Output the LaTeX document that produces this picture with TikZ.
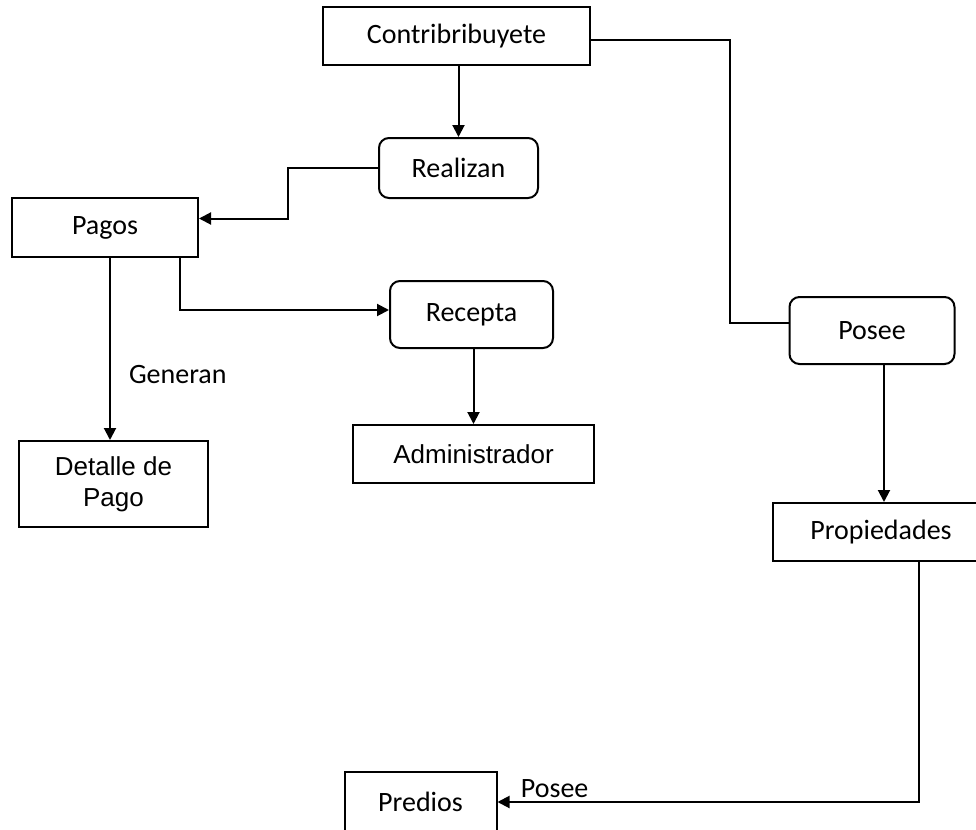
\documentclass[tikz,border=0pt]{standalone}
\usepackage{fontspec}
\setmainfont{Carlito}
\newfontfamily\arialfont{Liberation Sans}
\usepackage{tikz}
\usetikzlibrary{arrows.meta}

\begin{document}
\begin{tikzpicture}[x=0.5pt, y=-0.5pt,
    entidad/.style={draw, line width=1pt, inner sep=0pt, align=center,
        font=\fontsize{14}{17}\selectfont},
    relacion/.style={entidad, rounded corners=5pt},
    flecha/.style={line width=1pt, -{Triangle[length=6pt,width=6pt]}},
    linea/.style={line width=0.8pt},
    etiqueta/.style={inner sep=0pt, font=\fontsize{14}{17}\selectfont}]
    \useasboundingbox (0,0) rectangle (976,830);

    \node[entidad, minimum width=133.5pt, minimum height=29pt] (contrib) at (456.5,36) {Contribribuyete};
    \node[relacion, minimum width=79.5pt, minimum height=30pt] (realizan) at (458.5,168) {Realizan};
    \node[entidad, minimum width=93pt, minimum height=29.5pt] (pagos) at (105,227.5) {Pagos};
    \node[relacion, minimum width=81.5pt, minimum height=33.5pt] (recepta) at (471.5,314.5) {Recepta};
    \node[entidad, minimum width=120.5pt, minimum height=29pt, font=\arialfont\fontsize{13}{15.5}\selectfont] (admin) at (473.5,454) {Administrador};
    \node[entidad, minimum width=94.5pt, minimum height=43pt, font=\arialfont\fontsize{13}{15.5}\selectfont] (detalle) at (113.5,484) {Detalle de\\Pago};
    \node[relacion, minimum width=82.5pt, minimum height=33.5pt] (posee) at (872,330.5) {Posee};
    \node[entidad, minimum width=108.5pt, minimum height=29pt] (propiedades) at (881,532) {Propiedades};
    \node[entidad, minimum width=76pt, minimum height=30pt] (predios) at (420.5,802) {Predios};

    \draw[flecha] (realizan.north |- contrib.south) -- (realizan.north);
    \draw[flecha] (realizan.west) -- ++(-90,0) |- ([yshift=4.5pt]pagos.east);
    \draw[flecha] ([xshift=37.5pt]pagos.south) |- ([yshift=2.25pt]recepta.west);
    \draw[flecha] ([xshift=2.5pt]pagos.south) -- ([xshift=2.5pt]pagos.south |- detalle.north)
        node[etiqueta, right=9pt, pos=0.64] (generan) {Generan};
    \draw[flecha] (admin.north |- recepta.south) -- (admin.north);
    \draw[linea] ([yshift=-2pt]contrib.east) -- ++(139,0) |- ([yshift=3.75pt]posee.west);
    \draw[flecha] ([xshift=6pt]posee.south) -- ([xshift=6pt]posee.south |- propiedades.north);
    \draw[flecha] ([xshift=19pt]propiedades.south) |- (predios.east);
    \node[etiqueta, anchor=south west] (poseeb) at ([xshift=11.5pt,yshift=2pt]predios.east) {Posee};
\end{tikzpicture}
\end{document}
